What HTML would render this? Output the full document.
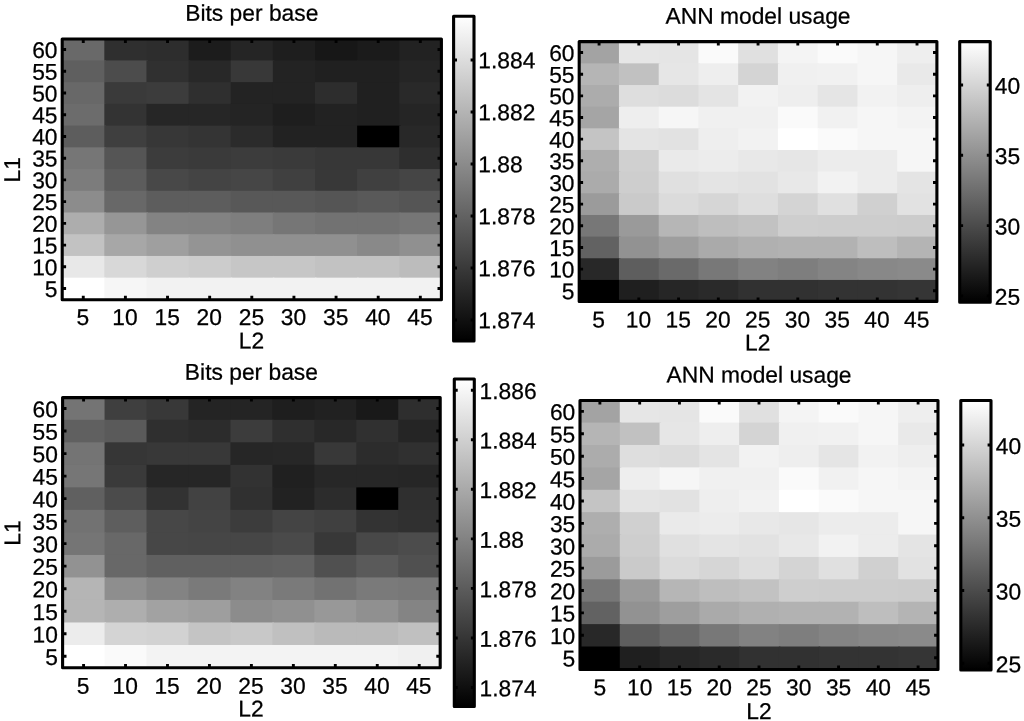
<!DOCTYPE html>
<html lang="en">
<head>
<meta charset="utf-8">
<title>Bits per base / ANN model usage</title>
<style>
html,body{margin:0;padding:0;background:#fff;}
body{width:1024px;height:721px;overflow:hidden;}
svg{display:block;}
svg text{font-family:"Liberation Sans",sans-serif;font-size:22.8px;fill:#000;stroke:#000;stroke-width:0.25px;}
</style>
</head>
<body>
<svg width="1024" height="721" viewBox="0 0 1024 721">
<defs>
<linearGradient id="gr" x1="0" y1="0" x2="0" y2="1">
<stop offset="0" stop-color="#fff"/>
<stop offset="1" stop-color="#000"/>
</linearGradient>
</defs>
<rect width="1024" height="721" fill="#fff"/>
<g>
<rect x="62.2" y="38.7" width="43.63" height="23.22" fill="#696969"/>
<rect x="104.33" y="38.7" width="43.63" height="23.22" fill="#2f2f2f"/>
<rect x="146.47" y="38.7" width="43.63" height="23.22" fill="#2d2d2d"/>
<rect x="188.6" y="38.7" width="43.63" height="23.22" fill="#1c1c1c"/>
<rect x="230.73" y="38.7" width="43.63" height="23.22" fill="#252525"/>
<rect x="272.87" y="38.7" width="43.63" height="23.22" fill="#1e1e1e"/>
<rect x="315" y="38.7" width="43.63" height="23.22" fill="#171717"/>
<rect x="357.13" y="38.7" width="43.63" height="23.22" fill="#1b1b1b"/>
<rect x="399.27" y="38.7" width="42.13" height="23.22" fill="#222222"/>
<rect x="62.2" y="60.42" width="43.63" height="23.22" fill="#5f5f5f"/>
<rect x="104.33" y="60.42" width="43.63" height="23.22" fill="#4c4c4c"/>
<rect x="146.47" y="60.42" width="43.63" height="23.22" fill="#303030"/>
<rect x="188.6" y="60.42" width="43.63" height="23.22" fill="#282828"/>
<rect x="230.73" y="60.42" width="43.63" height="23.22" fill="#383838"/>
<rect x="272.87" y="60.42" width="43.63" height="23.22" fill="#232323"/>
<rect x="315" y="60.42" width="43.63" height="23.22" fill="#202020"/>
<rect x="357.13" y="60.42" width="43.63" height="23.22" fill="#202020"/>
<rect x="399.27" y="60.42" width="42.13" height="23.22" fill="#252525"/>
<rect x="62.2" y="82.15" width="43.63" height="23.22" fill="#686868"/>
<rect x="104.33" y="82.15" width="43.63" height="23.22" fill="#3a3a3a"/>
<rect x="146.47" y="82.15" width="43.63" height="23.22" fill="#3c3c3c"/>
<rect x="188.6" y="82.15" width="43.63" height="23.22" fill="#2f2f2f"/>
<rect x="230.73" y="82.15" width="43.63" height="23.22" fill="#232323"/>
<rect x="272.87" y="82.15" width="43.63" height="23.22" fill="#232323"/>
<rect x="315" y="82.15" width="43.63" height="23.22" fill="#2d2d2d"/>
<rect x="357.13" y="82.15" width="43.63" height="23.22" fill="#202020"/>
<rect x="399.27" y="82.15" width="42.13" height="23.22" fill="#292929"/>
<rect x="62.2" y="103.88" width="43.63" height="23.22" fill="#6c6c6c"/>
<rect x="104.33" y="103.88" width="43.63" height="23.22" fill="#333333"/>
<rect x="146.47" y="103.88" width="43.63" height="23.22" fill="#262626"/>
<rect x="188.6" y="103.88" width="43.63" height="23.22" fill="#262626"/>
<rect x="230.73" y="103.88" width="43.63" height="23.22" fill="#242424"/>
<rect x="272.87" y="103.88" width="43.63" height="23.22" fill="#1e1e1e"/>
<rect x="315" y="103.88" width="43.63" height="23.22" fill="#222222"/>
<rect x="357.13" y="103.88" width="43.63" height="23.22" fill="#202020"/>
<rect x="399.27" y="103.88" width="42.13" height="23.22" fill="#252525"/>
<rect x="62.2" y="125.6" width="43.63" height="23.22" fill="#5d5d5d"/>
<rect x="104.33" y="125.6" width="43.63" height="23.22" fill="#3f3f3f"/>
<rect x="146.47" y="125.6" width="43.63" height="23.22" fill="#373737"/>
<rect x="188.6" y="125.6" width="43.63" height="23.22" fill="#343434"/>
<rect x="230.73" y="125.6" width="43.63" height="23.22" fill="#2b2b2b"/>
<rect x="272.87" y="125.6" width="43.63" height="23.22" fill="#222222"/>
<rect x="315" y="125.6" width="43.63" height="23.22" fill="#222222"/>
<rect x="357.13" y="125.6" width="43.63" height="23.22" fill="#000000"/>
<rect x="399.27" y="125.6" width="42.13" height="23.22" fill="#282828"/>
<rect x="62.2" y="147.32" width="43.63" height="23.22" fill="#767676"/>
<rect x="104.33" y="147.32" width="43.63" height="23.22" fill="#555555"/>
<rect x="146.47" y="147.32" width="43.63" height="23.22" fill="#3c3c3c"/>
<rect x="188.6" y="147.32" width="43.63" height="23.22" fill="#3a3a3a"/>
<rect x="230.73" y="147.32" width="43.63" height="23.22" fill="#3c3c3c"/>
<rect x="272.87" y="147.32" width="43.63" height="23.22" fill="#3a3a3a"/>
<rect x="315" y="147.32" width="43.63" height="23.22" fill="#373737"/>
<rect x="357.13" y="147.32" width="43.63" height="23.22" fill="#373737"/>
<rect x="399.27" y="147.32" width="42.13" height="23.22" fill="#2e2e2e"/>
<rect x="62.2" y="169.05" width="43.63" height="23.22" fill="#7c7c7c"/>
<rect x="104.33" y="169.05" width="43.63" height="23.22" fill="#5c5c5c"/>
<rect x="146.47" y="169.05" width="43.63" height="23.22" fill="#484848"/>
<rect x="188.6" y="169.05" width="43.63" height="23.22" fill="#444444"/>
<rect x="230.73" y="169.05" width="43.63" height="23.22" fill="#464646"/>
<rect x="272.87" y="169.05" width="43.63" height="23.22" fill="#404040"/>
<rect x="315" y="169.05" width="43.63" height="23.22" fill="#383838"/>
<rect x="357.13" y="169.05" width="43.63" height="23.22" fill="#404040"/>
<rect x="399.27" y="169.05" width="42.13" height="23.22" fill="#454545"/>
<rect x="62.2" y="190.77" width="43.63" height="23.22" fill="#8c8c8c"/>
<rect x="104.33" y="190.77" width="43.63" height="23.22" fill="#686868"/>
<rect x="146.47" y="190.77" width="43.63" height="23.22" fill="#5d5d5d"/>
<rect x="188.6" y="190.77" width="43.63" height="23.22" fill="#5d5d5d"/>
<rect x="230.73" y="190.77" width="43.63" height="23.22" fill="#585858"/>
<rect x="272.87" y="190.77" width="43.63" height="23.22" fill="#585858"/>
<rect x="315" y="190.77" width="43.63" height="23.22" fill="#555555"/>
<rect x="357.13" y="190.77" width="43.63" height="23.22" fill="#595959"/>
<rect x="399.27" y="190.77" width="42.13" height="23.22" fill="#555555"/>
<rect x="62.2" y="212.5" width="43.63" height="23.22" fill="#adadad"/>
<rect x="104.33" y="212.5" width="43.63" height="23.22" fill="#969696"/>
<rect x="146.47" y="212.5" width="43.63" height="23.22" fill="#838383"/>
<rect x="188.6" y="212.5" width="43.63" height="23.22" fill="#828282"/>
<rect x="230.73" y="212.5" width="43.63" height="23.22" fill="#7e7e7e"/>
<rect x="272.87" y="212.5" width="43.63" height="23.22" fill="#767676"/>
<rect x="315" y="212.5" width="43.63" height="23.22" fill="#727272"/>
<rect x="357.13" y="212.5" width="43.63" height="23.22" fill="#727272"/>
<rect x="399.27" y="212.5" width="42.13" height="23.22" fill="#767676"/>
<rect x="62.2" y="234.22" width="43.63" height="23.22" fill="#c2c2c2"/>
<rect x="104.33" y="234.22" width="43.63" height="23.22" fill="#a7a7a7"/>
<rect x="146.47" y="234.22" width="43.63" height="23.22" fill="#9f9f9f"/>
<rect x="188.6" y="234.22" width="43.63" height="23.22" fill="#949494"/>
<rect x="230.73" y="234.22" width="43.63" height="23.22" fill="#909090"/>
<rect x="272.87" y="234.22" width="43.63" height="23.22" fill="#909090"/>
<rect x="315" y="234.22" width="43.63" height="23.22" fill="#909090"/>
<rect x="357.13" y="234.22" width="43.63" height="23.22" fill="#898989"/>
<rect x="399.27" y="234.22" width="42.13" height="23.22" fill="#909090"/>
<rect x="62.2" y="255.95" width="43.63" height="23.22" fill="#e8e8e8"/>
<rect x="104.33" y="255.95" width="43.63" height="23.22" fill="#d8d8d8"/>
<rect x="146.47" y="255.95" width="43.63" height="23.22" fill="#cfcfcf"/>
<rect x="188.6" y="255.95" width="43.63" height="23.22" fill="#cccccc"/>
<rect x="230.73" y="255.95" width="43.63" height="23.22" fill="#c6c6c6"/>
<rect x="272.87" y="255.95" width="43.63" height="23.22" fill="#c6c6c6"/>
<rect x="315" y="255.95" width="43.63" height="23.22" fill="#c2c2c2"/>
<rect x="357.13" y="255.95" width="43.63" height="23.22" fill="#c2c2c2"/>
<rect x="399.27" y="255.95" width="42.13" height="23.22" fill="#bcbcbc"/>
<rect x="62.2" y="277.67" width="43.63" height="21.72" fill="#ffffff"/>
<rect x="104.33" y="277.67" width="43.63" height="21.72" fill="#f6f6f6"/>
<rect x="146.47" y="277.67" width="43.63" height="21.72" fill="#f2f2f2"/>
<rect x="188.6" y="277.67" width="43.63" height="21.72" fill="#f2f2f2"/>
<rect x="230.73" y="277.67" width="43.63" height="21.72" fill="#f2f2f2"/>
<rect x="272.87" y="277.67" width="43.63" height="21.72" fill="#f2f2f2"/>
<rect x="315" y="277.67" width="43.63" height="21.72" fill="#f2f2f2"/>
<rect x="357.13" y="277.67" width="43.63" height="21.72" fill="#f2f2f2"/>
<rect x="399.27" y="277.67" width="42.13" height="21.72" fill="#f2f2f2"/>
<path d="M83.27 299.7v-3.9M83.27 39v3.9M125.4 299.7v-3.9M125.4 39v3.9M167.53 299.7v-3.9M167.53 39v3.9M209.67 299.7v-3.9M209.67 39v3.9M251.8 299.7v-3.9M251.8 39v3.9M293.93 299.7v-3.9M293.93 39v3.9M336.07 299.7v-3.9M336.07 39v3.9M378.2 299.7v-3.9M378.2 39v3.9M420.33 299.7v-3.9M420.33 39v3.9M62.2 49.56h3.9M441.4 49.56h-3.9M62.2 71.29h3.9M441.4 71.29h-3.9M62.2 93.01h3.9M441.4 93.01h-3.9M62.2 114.74h3.9M441.4 114.74h-3.9M62.2 136.46h3.9M441.4 136.46h-3.9M62.2 158.19h3.9M441.4 158.19h-3.9M62.2 179.91h3.9M441.4 179.91h-3.9M62.2 201.64h3.9M441.4 201.64h-3.9M62.2 223.36h3.9M441.4 223.36h-3.9M62.2 245.09h3.9M441.4 245.09h-3.9M62.2 266.81h3.9M441.4 266.81h-3.9M62.2 288.54h3.9M441.4 288.54h-3.9" stroke="#000" stroke-width="2.9" fill="none"/>
<rect x="62.2" y="39" width="379.2" height="260.7" fill="none" stroke="#000" stroke-width="3.1" stroke-linejoin="round"/>
<text transform="translate(82.87 325) rotate(0.04)" text-anchor="middle">5</text>
<text transform="translate(125 325) rotate(0.04)" text-anchor="middle">10</text>
<text transform="translate(167.13 325) rotate(0.04)" text-anchor="middle">15</text>
<text transform="translate(209.27 325) rotate(0.04)" text-anchor="middle">20</text>
<text transform="translate(251.4 325) rotate(0.04)" text-anchor="middle">25</text>
<text transform="translate(293.53 325) rotate(0.04)" text-anchor="middle">30</text>
<text transform="translate(335.67 325) rotate(0.04)" text-anchor="middle">35</text>
<text transform="translate(377.8 325) rotate(0.04)" text-anchor="middle">40</text>
<text transform="translate(419.93 325) rotate(0.04)" text-anchor="middle">45</text>
<text transform="translate(57.5 57.96) rotate(0.04)" text-anchor="end">60</text>
<text transform="translate(57.5 79.69) rotate(0.04)" text-anchor="end">55</text>
<text transform="translate(57.5 101.41) rotate(0.04)" text-anchor="end">50</text>
<text transform="translate(57.5 123.14) rotate(0.04)" text-anchor="end">45</text>
<text transform="translate(57.5 144.86) rotate(0.04)" text-anchor="end">40</text>
<text transform="translate(57.5 166.59) rotate(0.04)" text-anchor="end">35</text>
<text transform="translate(57.5 188.31) rotate(0.04)" text-anchor="end">30</text>
<text transform="translate(57.5 210.04) rotate(0.04)" text-anchor="end">25</text>
<text transform="translate(57.5 231.76) rotate(0.04)" text-anchor="end">20</text>
<text transform="translate(57.5 253.49) rotate(0.04)" text-anchor="end">15</text>
<text transform="translate(57.5 275.21) rotate(0.04)" text-anchor="end">10</text>
<text transform="translate(57.5 296.94) rotate(0.04)" text-anchor="end">5</text>
<text transform="translate(251.4 348.4) rotate(0.04)" text-anchor="middle">L2</text>
<text transform="translate(251.8 20.8) rotate(0.04)" text-anchor="middle">Bits per base</text>
<text transform="translate(19.9 169.75) rotate(-90.04)" text-anchor="middle">L1</text>
<rect x="453.6" y="16.3" width="20.4" height="324.7" fill="url(#gr)"/>
<text transform="translate(478.3 68.3) rotate(0.04)">1.884</text>
<text transform="translate(478.3 120.3) rotate(0.04)">1.882</text>
<text transform="translate(478.3 172.3) rotate(0.04)">1.88</text>
<text transform="translate(478.3 224.3) rotate(0.04)">1.878</text>
<text transform="translate(478.3 276.3) rotate(0.04)">1.876</text>
<text transform="translate(478.3 328.3) rotate(0.04)">1.874</text>
<path d="M453.6 60h3.4M474 60h-3.4M453.6 112h3.4M474 112h-3.4M453.6 164h3.4M474 164h-3.4M453.6 216h3.4M474 216h-3.4M453.6 268h3.4M474 268h-3.4M453.6 320h3.4M474 320h-3.4" stroke="#000" stroke-width="2.9" fill="none"/>
<rect x="453.6" y="16.3" width="20.4" height="324.7" fill="none" stroke="#000" stroke-width="3.1" stroke-linejoin="round"/>
</g>
<g>
<rect x="579.2" y="41.7" width="41.24" height="23.16" fill="#a3a3a3"/>
<rect x="618.94" y="41.7" width="41.24" height="23.16" fill="#e6e6e6"/>
<rect x="658.69" y="41.7" width="41.24" height="23.16" fill="#e5e5e5"/>
<rect x="698.43" y="41.7" width="41.24" height="23.16" fill="#fafafa"/>
<rect x="738.18" y="41.7" width="41.24" height="23.16" fill="#e0e0e0"/>
<rect x="777.92" y="41.7" width="41.24" height="23.16" fill="#f4f4f4"/>
<rect x="817.67" y="41.7" width="41.24" height="23.16" fill="#fafafa"/>
<rect x="857.41" y="41.7" width="41.24" height="23.16" fill="#f6f6f6"/>
<rect x="897.16" y="41.7" width="39.74" height="23.16" fill="#eeeeee"/>
<rect x="579.2" y="63.36" width="41.24" height="23.16" fill="#b5b5b5"/>
<rect x="618.94" y="63.36" width="41.24" height="23.16" fill="#c1c1c1"/>
<rect x="658.69" y="63.36" width="41.24" height="23.16" fill="#e6e6e6"/>
<rect x="698.43" y="63.36" width="41.24" height="23.16" fill="#eeeeee"/>
<rect x="738.18" y="63.36" width="41.24" height="23.16" fill="#d4d4d4"/>
<rect x="777.92" y="63.36" width="41.24" height="23.16" fill="#f0f0f0"/>
<rect x="817.67" y="63.36" width="41.24" height="23.16" fill="#f1f1f1"/>
<rect x="857.41" y="63.36" width="41.24" height="23.16" fill="#f6f6f6"/>
<rect x="897.16" y="63.36" width="39.74" height="23.16" fill="#e9e9e9"/>
<rect x="579.2" y="85.02" width="41.24" height="23.16" fill="#acacac"/>
<rect x="618.94" y="85.02" width="41.24" height="23.16" fill="#dedede"/>
<rect x="658.69" y="85.02" width="41.24" height="23.16" fill="#dcdcdc"/>
<rect x="698.43" y="85.02" width="41.24" height="23.16" fill="#e4e4e4"/>
<rect x="738.18" y="85.02" width="41.24" height="23.16" fill="#f2f2f2"/>
<rect x="777.92" y="85.02" width="41.24" height="23.16" fill="#eeeeee"/>
<rect x="817.67" y="85.02" width="41.24" height="23.16" fill="#e5e5e5"/>
<rect x="857.41" y="85.02" width="41.24" height="23.16" fill="#f2f2f2"/>
<rect x="897.16" y="85.02" width="39.74" height="23.16" fill="#eeeeee"/>
<rect x="579.2" y="106.68" width="41.24" height="23.16" fill="#a5a5a5"/>
<rect x="618.94" y="106.68" width="41.24" height="23.16" fill="#eeeeee"/>
<rect x="658.69" y="106.68" width="41.24" height="23.16" fill="#f6f6f6"/>
<rect x="698.43" y="106.68" width="41.24" height="23.16" fill="#f0f0f0"/>
<rect x="738.18" y="106.68" width="41.24" height="23.16" fill="#f0f0f0"/>
<rect x="777.92" y="106.68" width="41.24" height="23.16" fill="#fafafa"/>
<rect x="817.67" y="106.68" width="41.24" height="23.16" fill="#f1f1f1"/>
<rect x="857.41" y="106.68" width="41.24" height="23.16" fill="#f6f6f6"/>
<rect x="897.16" y="106.68" width="39.74" height="23.16" fill="#f3f3f3"/>
<rect x="579.2" y="128.33" width="41.24" height="23.16" fill="#c4c4c4"/>
<rect x="618.94" y="128.33" width="41.24" height="23.16" fill="#e4e4e4"/>
<rect x="658.69" y="128.33" width="41.24" height="23.16" fill="#e2e2e2"/>
<rect x="698.43" y="128.33" width="41.24" height="23.16" fill="#eeeeee"/>
<rect x="738.18" y="128.33" width="41.24" height="23.16" fill="#f2f2f2"/>
<rect x="777.92" y="128.33" width="41.24" height="23.16" fill="#ffffff"/>
<rect x="817.67" y="128.33" width="41.24" height="23.16" fill="#fafafa"/>
<rect x="857.41" y="128.33" width="41.24" height="23.16" fill="#f6f6f6"/>
<rect x="897.16" y="128.33" width="39.74" height="23.16" fill="#f6f6f6"/>
<rect x="579.2" y="149.99" width="41.24" height="23.16" fill="#aeaeae"/>
<rect x="618.94" y="149.99" width="41.24" height="23.16" fill="#d0d0d0"/>
<rect x="658.69" y="149.99" width="41.24" height="23.16" fill="#eaeaea"/>
<rect x="698.43" y="149.99" width="41.24" height="23.16" fill="#ececec"/>
<rect x="738.18" y="149.99" width="41.24" height="23.16" fill="#e8e8e8"/>
<rect x="777.92" y="149.99" width="41.24" height="23.16" fill="#e6e6e6"/>
<rect x="817.67" y="149.99" width="41.24" height="23.16" fill="#ececec"/>
<rect x="857.41" y="149.99" width="41.24" height="23.16" fill="#ececec"/>
<rect x="897.16" y="149.99" width="39.74" height="23.16" fill="#f6f6f6"/>
<rect x="579.2" y="171.65" width="41.24" height="23.16" fill="#ababab"/>
<rect x="618.94" y="171.65" width="41.24" height="23.16" fill="#cecece"/>
<rect x="658.69" y="171.65" width="41.24" height="23.16" fill="#e0e0e0"/>
<rect x="698.43" y="171.65" width="41.24" height="23.16" fill="#e4e4e4"/>
<rect x="738.18" y="171.65" width="41.24" height="23.16" fill="#e2e2e2"/>
<rect x="777.92" y="171.65" width="41.24" height="23.16" fill="#e8e8e8"/>
<rect x="817.67" y="171.65" width="41.24" height="23.16" fill="#f2f2f2"/>
<rect x="857.41" y="171.65" width="41.24" height="23.16" fill="#ececec"/>
<rect x="897.16" y="171.65" width="39.74" height="23.16" fill="#e4e4e4"/>
<rect x="579.2" y="193.31" width="41.24" height="23.16" fill="#9b9b9b"/>
<rect x="618.94" y="193.31" width="41.24" height="23.16" fill="#cacaca"/>
<rect x="658.69" y="193.31" width="41.24" height="23.16" fill="#dbdbdb"/>
<rect x="698.43" y="193.31" width="41.24" height="23.16" fill="#d6d6d6"/>
<rect x="738.18" y="193.31" width="41.24" height="23.16" fill="#dedede"/>
<rect x="777.92" y="193.31" width="41.24" height="23.16" fill="#d4d4d4"/>
<rect x="817.67" y="193.31" width="41.24" height="23.16" fill="#e0e0e0"/>
<rect x="857.41" y="193.31" width="41.24" height="23.16" fill="#d0d0d0"/>
<rect x="897.16" y="193.31" width="39.74" height="23.16" fill="#e2e2e2"/>
<rect x="579.2" y="214.97" width="41.24" height="23.16" fill="#777777"/>
<rect x="618.94" y="214.97" width="41.24" height="23.16" fill="#9a9a9a"/>
<rect x="658.69" y="214.97" width="41.24" height="23.16" fill="#b6b6b6"/>
<rect x="698.43" y="214.97" width="41.24" height="23.16" fill="#bebebe"/>
<rect x="738.18" y="214.97" width="41.24" height="23.16" fill="#c2c2c2"/>
<rect x="777.92" y="214.97" width="41.24" height="23.16" fill="#cecece"/>
<rect x="817.67" y="214.97" width="41.24" height="23.16" fill="#cdcdcd"/>
<rect x="857.41" y="214.97" width="41.24" height="23.16" fill="#cdcdcd"/>
<rect x="897.16" y="214.97" width="39.74" height="23.16" fill="#cccccc"/>
<rect x="579.2" y="236.62" width="41.24" height="23.16" fill="#626262"/>
<rect x="618.94" y="236.62" width="41.24" height="23.16" fill="#929292"/>
<rect x="658.69" y="236.62" width="41.24" height="23.16" fill="#9e9e9e"/>
<rect x="698.43" y="236.62" width="41.24" height="23.16" fill="#aaaaaa"/>
<rect x="738.18" y="236.62" width="41.24" height="23.16" fill="#b0b0b0"/>
<rect x="777.92" y="236.62" width="41.24" height="23.16" fill="#b2b2b2"/>
<rect x="817.67" y="236.62" width="41.24" height="23.16" fill="#b2b2b2"/>
<rect x="857.41" y="236.62" width="41.24" height="23.16" fill="#bebebe"/>
<rect x="897.16" y="236.62" width="39.74" height="23.16" fill="#b4b4b4"/>
<rect x="579.2" y="258.28" width="41.24" height="23.16" fill="#282828"/>
<rect x="618.94" y="258.28" width="41.24" height="23.16" fill="#5e5e5e"/>
<rect x="658.69" y="258.28" width="41.24" height="23.16" fill="#6a6a6a"/>
<rect x="698.43" y="258.28" width="41.24" height="23.16" fill="#787878"/>
<rect x="738.18" y="258.28" width="41.24" height="23.16" fill="#828282"/>
<rect x="777.92" y="258.28" width="41.24" height="23.16" fill="#7e7e7e"/>
<rect x="817.67" y="258.28" width="41.24" height="23.16" fill="#848484"/>
<rect x="857.41" y="258.28" width="41.24" height="23.16" fill="#888888"/>
<rect x="897.16" y="258.28" width="39.74" height="23.16" fill="#8a8a8a"/>
<rect x="579.2" y="279.94" width="41.24" height="21.66" fill="#000000"/>
<rect x="618.94" y="279.94" width="41.24" height="21.66" fill="#1f1f1f"/>
<rect x="658.69" y="279.94" width="41.24" height="21.66" fill="#262626"/>
<rect x="698.43" y="279.94" width="41.24" height="21.66" fill="#2a2a2a"/>
<rect x="738.18" y="279.94" width="41.24" height="21.66" fill="#313131"/>
<rect x="777.92" y="279.94" width="41.24" height="21.66" fill="#313131"/>
<rect x="817.67" y="279.94" width="41.24" height="21.66" fill="#333333"/>
<rect x="857.41" y="279.94" width="41.24" height="21.66" fill="#333333"/>
<rect x="897.16" y="279.94" width="39.74" height="21.66" fill="#353535"/>
<path d="M599.07 301.4v-3.9M599.07 41.6v3.9M638.82 301.4v-3.9M638.82 41.6v3.9M678.56 301.4v-3.9M678.56 41.6v3.9M718.31 301.4v-3.9M718.31 41.6v3.9M758.05 301.4v-3.9M758.05 41.6v3.9M797.79 301.4v-3.9M797.79 41.6v3.9M837.54 301.4v-3.9M837.54 41.6v3.9M877.28 301.4v-3.9M877.28 41.6v3.9M917.03 301.4v-3.9M917.03 41.6v3.9M579.2 52.53h3.9M936.9 52.53h-3.9M579.2 74.19h3.9M936.9 74.19h-3.9M579.2 95.85h3.9M936.9 95.85h-3.9M579.2 117.5h3.9M936.9 117.5h-3.9M579.2 139.16h3.9M936.9 139.16h-3.9M579.2 160.82h3.9M936.9 160.82h-3.9M579.2 182.48h3.9M936.9 182.48h-3.9M579.2 204.14h3.9M936.9 204.14h-3.9M579.2 225.8h3.9M936.9 225.8h-3.9M579.2 247.45h3.9M936.9 247.45h-3.9M579.2 269.11h3.9M936.9 269.11h-3.9M579.2 290.77h3.9M936.9 290.77h-3.9" stroke="#000" stroke-width="2.9" fill="none"/>
<rect x="579.2" y="41.6" width="357.7" height="259.8" fill="none" stroke="#000" stroke-width="3.1" stroke-linejoin="round"/>
<text transform="translate(598.67 327.5) rotate(0.04)" text-anchor="middle">5</text>
<text transform="translate(638.42 327.5) rotate(0.04)" text-anchor="middle">10</text>
<text transform="translate(678.16 327.5) rotate(0.04)" text-anchor="middle">15</text>
<text transform="translate(717.91 327.5) rotate(0.04)" text-anchor="middle">20</text>
<text transform="translate(757.65 327.5) rotate(0.04)" text-anchor="middle">25</text>
<text transform="translate(797.39 327.5) rotate(0.04)" text-anchor="middle">30</text>
<text transform="translate(837.14 327.5) rotate(0.04)" text-anchor="middle">35</text>
<text transform="translate(876.88 327.5) rotate(0.04)" text-anchor="middle">40</text>
<text transform="translate(916.63 327.5) rotate(0.04)" text-anchor="middle">45</text>
<text transform="translate(574.5 61.03) rotate(0.04)" text-anchor="end">60</text>
<text transform="translate(574.5 82.69) rotate(0.04)" text-anchor="end">55</text>
<text transform="translate(574.5 104.35) rotate(0.04)" text-anchor="end">50</text>
<text transform="translate(574.5 126) rotate(0.04)" text-anchor="end">45</text>
<text transform="translate(574.5 147.66) rotate(0.04)" text-anchor="end">40</text>
<text transform="translate(574.5 169.32) rotate(0.04)" text-anchor="end">35</text>
<text transform="translate(574.5 190.98) rotate(0.04)" text-anchor="end">30</text>
<text transform="translate(574.5 212.64) rotate(0.04)" text-anchor="end">25</text>
<text transform="translate(574.5 234.3) rotate(0.04)" text-anchor="end">20</text>
<text transform="translate(574.5 255.95) rotate(0.04)" text-anchor="end">15</text>
<text transform="translate(574.5 277.61) rotate(0.04)" text-anchor="end">10</text>
<text transform="translate(574.5 299.27) rotate(0.04)" text-anchor="end">5</text>
<text transform="translate(757.65 350.6) rotate(0.04)" text-anchor="middle">L2</text>
<text transform="translate(758.05 23.8) rotate(0.04)" text-anchor="middle">ANN model usage</text>
<rect x="959.7" y="41.6" width="30.5" height="260.7" fill="url(#gr)"/>
<text transform="translate(994.7 93.8) rotate(0.04)">40</text>
<text transform="translate(994.7 164.1) rotate(0.04)">35</text>
<text transform="translate(994.7 234.4) rotate(0.04)">30</text>
<text transform="translate(994.7 304.7) rotate(0.04)">25</text>
<path d="M959.7 85h3.4M990.2 85h-3.4M959.7 155.3h3.4M990.2 155.3h-3.4M959.7 225.6h3.4M990.2 225.6h-3.4M959.7 295.9h3.4M990.2 295.9h-3.4" stroke="#000" stroke-width="2.9" fill="none"/>
<rect x="959.7" y="41.6" width="30.5" height="260.7" fill="none" stroke="#000" stroke-width="3.1" stroke-linejoin="round"/>
</g>
<g>
<rect x="62.6" y="397.3" width="43.46" height="24.02" fill="#747474"/>
<rect x="104.56" y="397.3" width="43.46" height="24.02" fill="#3f3f3f"/>
<rect x="146.51" y="397.3" width="43.46" height="24.02" fill="#383838"/>
<rect x="188.47" y="397.3" width="43.46" height="24.02" fill="#242424"/>
<rect x="230.42" y="397.3" width="43.46" height="24.02" fill="#242424"/>
<rect x="272.38" y="397.3" width="43.46" height="24.02" fill="#1e1e1e"/>
<rect x="314.33" y="397.3" width="43.46" height="24.02" fill="#212121"/>
<rect x="356.29" y="397.3" width="43.46" height="24.02" fill="#191919"/>
<rect x="398.24" y="397.3" width="41.96" height="24.02" fill="#2e2e2e"/>
<rect x="62.6" y="419.82" width="43.46" height="24.02" fill="#606060"/>
<rect x="104.56" y="419.82" width="43.46" height="24.02" fill="#5a5a5a"/>
<rect x="146.51" y="419.82" width="43.46" height="24.02" fill="#2f2f2f"/>
<rect x="188.47" y="419.82" width="43.46" height="24.02" fill="#2c2c2c"/>
<rect x="230.42" y="419.82" width="43.46" height="24.02" fill="#3c3c3c"/>
<rect x="272.38" y="419.82" width="43.46" height="24.02" fill="#2f2f2f"/>
<rect x="314.33" y="419.82" width="43.46" height="24.02" fill="#282828"/>
<rect x="356.29" y="419.82" width="43.46" height="24.02" fill="#303030"/>
<rect x="398.24" y="419.82" width="41.96" height="24.02" fill="#252525"/>
<rect x="62.6" y="442.33" width="43.46" height="24.02" fill="#747474"/>
<rect x="104.56" y="442.33" width="43.46" height="24.02" fill="#363636"/>
<rect x="146.51" y="442.33" width="43.46" height="24.02" fill="#383838"/>
<rect x="188.47" y="442.33" width="43.46" height="24.02" fill="#383838"/>
<rect x="230.42" y="442.33" width="43.46" height="24.02" fill="#262626"/>
<rect x="272.38" y="442.33" width="43.46" height="24.02" fill="#272727"/>
<rect x="314.33" y="442.33" width="43.46" height="24.02" fill="#383838"/>
<rect x="356.29" y="442.33" width="43.46" height="24.02" fill="#2c2c2c"/>
<rect x="398.24" y="442.33" width="41.96" height="24.02" fill="#303030"/>
<rect x="62.6" y="464.85" width="43.46" height="24.02" fill="#767676"/>
<rect x="104.56" y="464.85" width="43.46" height="24.02" fill="#3a3a3a"/>
<rect x="146.51" y="464.85" width="43.46" height="24.02" fill="#262626"/>
<rect x="188.47" y="464.85" width="43.46" height="24.02" fill="#262626"/>
<rect x="230.42" y="464.85" width="43.46" height="24.02" fill="#323232"/>
<rect x="272.38" y="464.85" width="43.46" height="24.02" fill="#202020"/>
<rect x="314.33" y="464.85" width="43.46" height="24.02" fill="#272727"/>
<rect x="356.29" y="464.85" width="43.46" height="24.02" fill="#272727"/>
<rect x="398.24" y="464.85" width="41.96" height="24.02" fill="#262626"/>
<rect x="62.6" y="487.37" width="43.46" height="24.02" fill="#606060"/>
<rect x="104.56" y="487.37" width="43.46" height="24.02" fill="#4b4b4b"/>
<rect x="146.51" y="487.37" width="43.46" height="24.02" fill="#323232"/>
<rect x="188.47" y="487.37" width="43.46" height="24.02" fill="#424242"/>
<rect x="230.42" y="487.37" width="43.46" height="24.02" fill="#303030"/>
<rect x="272.38" y="487.37" width="43.46" height="24.02" fill="#222222"/>
<rect x="314.33" y="487.37" width="43.46" height="24.02" fill="#2c2c2c"/>
<rect x="356.29" y="487.37" width="43.46" height="24.02" fill="#000000"/>
<rect x="398.24" y="487.37" width="41.96" height="24.02" fill="#2f2f2f"/>
<rect x="62.6" y="509.88" width="43.46" height="24.02" fill="#727272"/>
<rect x="104.56" y="509.88" width="43.46" height="24.02" fill="#5e5e5e"/>
<rect x="146.51" y="509.88" width="43.46" height="24.02" fill="#474747"/>
<rect x="188.47" y="509.88" width="43.46" height="24.02" fill="#444444"/>
<rect x="230.42" y="509.88" width="43.46" height="24.02" fill="#3c3c3c"/>
<rect x="272.38" y="509.88" width="43.46" height="24.02" fill="#444444"/>
<rect x="314.33" y="509.88" width="43.46" height="24.02" fill="#404040"/>
<rect x="356.29" y="509.88" width="43.46" height="24.02" fill="#333333"/>
<rect x="398.24" y="509.88" width="41.96" height="24.02" fill="#303030"/>
<rect x="62.6" y="532.4" width="43.46" height="24.02" fill="#757575"/>
<rect x="104.56" y="532.4" width="43.46" height="24.02" fill="#686868"/>
<rect x="146.51" y="532.4" width="43.46" height="24.02" fill="#474747"/>
<rect x="188.47" y="532.4" width="43.46" height="24.02" fill="#464646"/>
<rect x="230.42" y="532.4" width="43.46" height="24.02" fill="#464646"/>
<rect x="272.38" y="532.4" width="43.46" height="24.02" fill="#4a4a4a"/>
<rect x="314.33" y="532.4" width="43.46" height="24.02" fill="#383838"/>
<rect x="356.29" y="532.4" width="43.46" height="24.02" fill="#484848"/>
<rect x="398.24" y="532.4" width="41.96" height="24.02" fill="#4c4c4c"/>
<rect x="62.6" y="554.92" width="43.46" height="24.02" fill="#929292"/>
<rect x="104.56" y="554.92" width="43.46" height="24.02" fill="#686868"/>
<rect x="146.51" y="554.92" width="43.46" height="24.02" fill="#606060"/>
<rect x="188.47" y="554.92" width="43.46" height="24.02" fill="#606060"/>
<rect x="230.42" y="554.92" width="43.46" height="24.02" fill="#606060"/>
<rect x="272.38" y="554.92" width="43.46" height="24.02" fill="#626262"/>
<rect x="314.33" y="554.92" width="43.46" height="24.02" fill="#505050"/>
<rect x="356.29" y="554.92" width="43.46" height="24.02" fill="#5a5a5a"/>
<rect x="398.24" y="554.92" width="41.96" height="24.02" fill="#505050"/>
<rect x="62.6" y="577.43" width="43.46" height="24.02" fill="#b5b5b5"/>
<rect x="104.56" y="577.43" width="43.46" height="24.02" fill="#8e8e8e"/>
<rect x="146.51" y="577.43" width="43.46" height="24.02" fill="#838383"/>
<rect x="188.47" y="577.43" width="43.46" height="24.02" fill="#7a7a7a"/>
<rect x="230.42" y="577.43" width="43.46" height="24.02" fill="#828282"/>
<rect x="272.38" y="577.43" width="43.46" height="24.02" fill="#7a7a7a"/>
<rect x="314.33" y="577.43" width="43.46" height="24.02" fill="#727272"/>
<rect x="356.29" y="577.43" width="43.46" height="24.02" fill="#7a7a7a"/>
<rect x="398.24" y="577.43" width="41.96" height="24.02" fill="#787878"/>
<rect x="62.6" y="599.95" width="43.46" height="24.02" fill="#b5b5b5"/>
<rect x="104.56" y="599.95" width="43.46" height="24.02" fill="#aeaeae"/>
<rect x="146.51" y="599.95" width="43.46" height="24.02" fill="#a2a2a2"/>
<rect x="188.47" y="599.95" width="43.46" height="24.02" fill="#9e9e9e"/>
<rect x="230.42" y="599.95" width="43.46" height="24.02" fill="#8c8c8c"/>
<rect x="272.38" y="599.95" width="43.46" height="24.02" fill="#909090"/>
<rect x="314.33" y="599.95" width="43.46" height="24.02" fill="#989898"/>
<rect x="356.29" y="599.95" width="43.46" height="24.02" fill="#909090"/>
<rect x="398.24" y="599.95" width="41.96" height="24.02" fill="#848484"/>
<rect x="62.6" y="622.47" width="43.46" height="24.02" fill="#ececec"/>
<rect x="104.56" y="622.47" width="43.46" height="24.02" fill="#d4d4d4"/>
<rect x="146.51" y="622.47" width="43.46" height="24.02" fill="#d2d2d2"/>
<rect x="188.47" y="622.47" width="43.46" height="24.02" fill="#c4c4c4"/>
<rect x="230.42" y="622.47" width="43.46" height="24.02" fill="#c8c8c8"/>
<rect x="272.38" y="622.47" width="43.46" height="24.02" fill="#c0c0c0"/>
<rect x="314.33" y="622.47" width="43.46" height="24.02" fill="#bababa"/>
<rect x="356.29" y="622.47" width="43.46" height="24.02" fill="#bababa"/>
<rect x="398.24" y="622.47" width="41.96" height="24.02" fill="#c0c0c0"/>
<rect x="62.6" y="644.98" width="43.46" height="22.52" fill="#ffffff"/>
<rect x="104.56" y="644.98" width="43.46" height="22.52" fill="#fafafa"/>
<rect x="146.51" y="644.98" width="43.46" height="22.52" fill="#f3f3f3"/>
<rect x="188.47" y="644.98" width="43.46" height="22.52" fill="#f3f3f3"/>
<rect x="230.42" y="644.98" width="43.46" height="22.52" fill="#f3f3f3"/>
<rect x="272.38" y="644.98" width="43.46" height="22.52" fill="#f3f3f3"/>
<rect x="314.33" y="644.98" width="43.46" height="22.52" fill="#f3f3f3"/>
<rect x="356.29" y="644.98" width="43.46" height="22.52" fill="#f3f3f3"/>
<rect x="398.24" y="644.98" width="41.96" height="22.52" fill="#f0f0f0"/>
<path d="M83.58 667.8v-3.9M83.58 397.6v3.9M125.53 667.8v-3.9M125.53 397.6v3.9M167.49 667.8v-3.9M167.49 397.6v3.9M209.44 667.8v-3.9M209.44 397.6v3.9M251.4 667.8v-3.9M251.4 397.6v3.9M293.36 667.8v-3.9M293.36 397.6v3.9M335.31 667.8v-3.9M335.31 397.6v3.9M377.27 667.8v-3.9M377.27 397.6v3.9M419.22 667.8v-3.9M419.22 397.6v3.9M62.6 408.56h3.9M440.2 408.56h-3.9M62.6 431.07h3.9M440.2 431.07h-3.9M62.6 453.59h3.9M440.2 453.59h-3.9M62.6 476.11h3.9M440.2 476.11h-3.9M62.6 498.62h3.9M440.2 498.62h-3.9M62.6 521.14h3.9M440.2 521.14h-3.9M62.6 543.66h3.9M440.2 543.66h-3.9M62.6 566.17h3.9M440.2 566.17h-3.9M62.6 588.69h3.9M440.2 588.69h-3.9M62.6 611.21h3.9M440.2 611.21h-3.9M62.6 633.73h3.9M440.2 633.73h-3.9M62.6 656.24h3.9M440.2 656.24h-3.9" stroke="#000" stroke-width="2.9" fill="none"/>
<rect x="62.6" y="397.6" width="377.6" height="270.2" fill="none" stroke="#000" stroke-width="3.1" stroke-linejoin="round"/>
<text transform="translate(83.18 693.7) rotate(0.04)" text-anchor="middle">5</text>
<text transform="translate(125.13 693.7) rotate(0.04)" text-anchor="middle">10</text>
<text transform="translate(167.09 693.7) rotate(0.04)" text-anchor="middle">15</text>
<text transform="translate(209.04 693.7) rotate(0.04)" text-anchor="middle">20</text>
<text transform="translate(251 693.7) rotate(0.04)" text-anchor="middle">25</text>
<text transform="translate(292.96 693.7) rotate(0.04)" text-anchor="middle">30</text>
<text transform="translate(334.91 693.7) rotate(0.04)" text-anchor="middle">35</text>
<text transform="translate(376.87 693.7) rotate(0.04)" text-anchor="middle">40</text>
<text transform="translate(418.82 693.7) rotate(0.04)" text-anchor="middle">45</text>
<text transform="translate(57.9 417.26) rotate(0.04)" text-anchor="end">60</text>
<text transform="translate(57.9 439.77) rotate(0.04)" text-anchor="end">55</text>
<text transform="translate(57.9 462.29) rotate(0.04)" text-anchor="end">50</text>
<text transform="translate(57.9 484.81) rotate(0.04)" text-anchor="end">45</text>
<text transform="translate(57.9 507.32) rotate(0.04)" text-anchor="end">40</text>
<text transform="translate(57.9 529.84) rotate(0.04)" text-anchor="end">35</text>
<text transform="translate(57.9 552.36) rotate(0.04)" text-anchor="end">30</text>
<text transform="translate(57.9 574.88) rotate(0.04)" text-anchor="end">25</text>
<text transform="translate(57.9 597.39) rotate(0.04)" text-anchor="end">20</text>
<text transform="translate(57.9 619.91) rotate(0.04)" text-anchor="end">15</text>
<text transform="translate(57.9 642.43) rotate(0.04)" text-anchor="end">10</text>
<text transform="translate(57.9 664.94) rotate(0.04)" text-anchor="end">5</text>
<text transform="translate(251 716.5) rotate(0.04)" text-anchor="middle">L2</text>
<text transform="translate(251.4 379.8) rotate(0.04)" text-anchor="middle">Bits per base</text>
<text transform="translate(20.3 533.1) rotate(-90.04)" text-anchor="middle">L1</text>
<rect x="454.3" y="379" width="20" height="327.5" fill="url(#gr)"/>
<text transform="translate(479.6 399) rotate(0.04)">1.886</text>
<text transform="translate(479.6 448.55) rotate(0.04)">1.884</text>
<text transform="translate(479.6 498.1) rotate(0.04)">1.882</text>
<text transform="translate(479.6 547.65) rotate(0.04)">1.88</text>
<text transform="translate(479.6 597.2) rotate(0.04)">1.878</text>
<text transform="translate(479.6 646.75) rotate(0.04)">1.876</text>
<text transform="translate(479.6 696.3) rotate(0.04)">1.874</text>
<path d="M454.3 390.2h3.4M474.3 390.2h-3.4M454.3 439.75h3.4M474.3 439.75h-3.4M454.3 489.3h3.4M474.3 489.3h-3.4M454.3 538.85h3.4M474.3 538.85h-3.4M454.3 588.4h3.4M474.3 588.4h-3.4M454.3 637.95h3.4M474.3 637.95h-3.4M454.3 687.5h3.4M474.3 687.5h-3.4" stroke="#000" stroke-width="2.9" fill="none"/>
<rect x="454.3" y="379" width="20" height="327.5" fill="none" stroke="#000" stroke-width="3.1" stroke-linejoin="round"/>
</g>
<g>
<rect x="580" y="400.2" width="41.28" height="23.89" fill="#a3a3a3"/>
<rect x="619.78" y="400.2" width="41.28" height="23.89" fill="#e6e6e6"/>
<rect x="659.56" y="400.2" width="41.28" height="23.89" fill="#e5e5e5"/>
<rect x="699.33" y="400.2" width="41.28" height="23.89" fill="#fafafa"/>
<rect x="739.11" y="400.2" width="41.28" height="23.89" fill="#e0e0e0"/>
<rect x="778.89" y="400.2" width="41.28" height="23.89" fill="#f4f4f4"/>
<rect x="818.67" y="400.2" width="41.28" height="23.89" fill="#fafafa"/>
<rect x="858.44" y="400.2" width="41.28" height="23.89" fill="#f6f6f6"/>
<rect x="898.22" y="400.2" width="39.78" height="23.89" fill="#eeeeee"/>
<rect x="580" y="422.59" width="41.28" height="23.89" fill="#b5b5b5"/>
<rect x="619.78" y="422.59" width="41.28" height="23.89" fill="#c1c1c1"/>
<rect x="659.56" y="422.59" width="41.28" height="23.89" fill="#e6e6e6"/>
<rect x="699.33" y="422.59" width="41.28" height="23.89" fill="#eeeeee"/>
<rect x="739.11" y="422.59" width="41.28" height="23.89" fill="#d4d4d4"/>
<rect x="778.89" y="422.59" width="41.28" height="23.89" fill="#f0f0f0"/>
<rect x="818.67" y="422.59" width="41.28" height="23.89" fill="#f1f1f1"/>
<rect x="858.44" y="422.59" width="41.28" height="23.89" fill="#f6f6f6"/>
<rect x="898.22" y="422.59" width="39.78" height="23.89" fill="#e9e9e9"/>
<rect x="580" y="444.98" width="41.28" height="23.89" fill="#acacac"/>
<rect x="619.78" y="444.98" width="41.28" height="23.89" fill="#dedede"/>
<rect x="659.56" y="444.98" width="41.28" height="23.89" fill="#dcdcdc"/>
<rect x="699.33" y="444.98" width="41.28" height="23.89" fill="#e4e4e4"/>
<rect x="739.11" y="444.98" width="41.28" height="23.89" fill="#f2f2f2"/>
<rect x="778.89" y="444.98" width="41.28" height="23.89" fill="#eeeeee"/>
<rect x="818.67" y="444.98" width="41.28" height="23.89" fill="#e5e5e5"/>
<rect x="858.44" y="444.98" width="41.28" height="23.89" fill="#f2f2f2"/>
<rect x="898.22" y="444.98" width="39.78" height="23.89" fill="#eeeeee"/>
<rect x="580" y="467.38" width="41.28" height="23.89" fill="#a5a5a5"/>
<rect x="619.78" y="467.38" width="41.28" height="23.89" fill="#eeeeee"/>
<rect x="659.56" y="467.38" width="41.28" height="23.89" fill="#f6f6f6"/>
<rect x="699.33" y="467.38" width="41.28" height="23.89" fill="#f0f0f0"/>
<rect x="739.11" y="467.38" width="41.28" height="23.89" fill="#f0f0f0"/>
<rect x="778.89" y="467.38" width="41.28" height="23.89" fill="#fafafa"/>
<rect x="818.67" y="467.38" width="41.28" height="23.89" fill="#f1f1f1"/>
<rect x="858.44" y="467.38" width="41.28" height="23.89" fill="#f6f6f6"/>
<rect x="898.22" y="467.38" width="39.78" height="23.89" fill="#f3f3f3"/>
<rect x="580" y="489.77" width="41.28" height="23.89" fill="#c4c4c4"/>
<rect x="619.78" y="489.77" width="41.28" height="23.89" fill="#e4e4e4"/>
<rect x="659.56" y="489.77" width="41.28" height="23.89" fill="#e2e2e2"/>
<rect x="699.33" y="489.77" width="41.28" height="23.89" fill="#eeeeee"/>
<rect x="739.11" y="489.77" width="41.28" height="23.89" fill="#f2f2f2"/>
<rect x="778.89" y="489.77" width="41.28" height="23.89" fill="#ffffff"/>
<rect x="818.67" y="489.77" width="41.28" height="23.89" fill="#fafafa"/>
<rect x="858.44" y="489.77" width="41.28" height="23.89" fill="#f6f6f6"/>
<rect x="898.22" y="489.77" width="39.78" height="23.89" fill="#f6f6f6"/>
<rect x="580" y="512.16" width="41.28" height="23.89" fill="#aeaeae"/>
<rect x="619.78" y="512.16" width="41.28" height="23.89" fill="#d0d0d0"/>
<rect x="659.56" y="512.16" width="41.28" height="23.89" fill="#eaeaea"/>
<rect x="699.33" y="512.16" width="41.28" height="23.89" fill="#ececec"/>
<rect x="739.11" y="512.16" width="41.28" height="23.89" fill="#e8e8e8"/>
<rect x="778.89" y="512.16" width="41.28" height="23.89" fill="#e6e6e6"/>
<rect x="818.67" y="512.16" width="41.28" height="23.89" fill="#ececec"/>
<rect x="858.44" y="512.16" width="41.28" height="23.89" fill="#ececec"/>
<rect x="898.22" y="512.16" width="39.78" height="23.89" fill="#f6f6f6"/>
<rect x="580" y="534.55" width="41.28" height="23.89" fill="#ababab"/>
<rect x="619.78" y="534.55" width="41.28" height="23.89" fill="#cecece"/>
<rect x="659.56" y="534.55" width="41.28" height="23.89" fill="#e0e0e0"/>
<rect x="699.33" y="534.55" width="41.28" height="23.89" fill="#e4e4e4"/>
<rect x="739.11" y="534.55" width="41.28" height="23.89" fill="#e2e2e2"/>
<rect x="778.89" y="534.55" width="41.28" height="23.89" fill="#e8e8e8"/>
<rect x="818.67" y="534.55" width="41.28" height="23.89" fill="#f2f2f2"/>
<rect x="858.44" y="534.55" width="41.28" height="23.89" fill="#ececec"/>
<rect x="898.22" y="534.55" width="39.78" height="23.89" fill="#e4e4e4"/>
<rect x="580" y="556.94" width="41.28" height="23.89" fill="#9b9b9b"/>
<rect x="619.78" y="556.94" width="41.28" height="23.89" fill="#cacaca"/>
<rect x="659.56" y="556.94" width="41.28" height="23.89" fill="#dbdbdb"/>
<rect x="699.33" y="556.94" width="41.28" height="23.89" fill="#d6d6d6"/>
<rect x="739.11" y="556.94" width="41.28" height="23.89" fill="#dedede"/>
<rect x="778.89" y="556.94" width="41.28" height="23.89" fill="#d4d4d4"/>
<rect x="818.67" y="556.94" width="41.28" height="23.89" fill="#e0e0e0"/>
<rect x="858.44" y="556.94" width="41.28" height="23.89" fill="#d0d0d0"/>
<rect x="898.22" y="556.94" width="39.78" height="23.89" fill="#e2e2e2"/>
<rect x="580" y="579.33" width="41.28" height="23.89" fill="#777777"/>
<rect x="619.78" y="579.33" width="41.28" height="23.89" fill="#9a9a9a"/>
<rect x="659.56" y="579.33" width="41.28" height="23.89" fill="#b6b6b6"/>
<rect x="699.33" y="579.33" width="41.28" height="23.89" fill="#bebebe"/>
<rect x="739.11" y="579.33" width="41.28" height="23.89" fill="#c2c2c2"/>
<rect x="778.89" y="579.33" width="41.28" height="23.89" fill="#cecece"/>
<rect x="818.67" y="579.33" width="41.28" height="23.89" fill="#cdcdcd"/>
<rect x="858.44" y="579.33" width="41.28" height="23.89" fill="#cdcdcd"/>
<rect x="898.22" y="579.33" width="39.78" height="23.89" fill="#cccccc"/>
<rect x="580" y="601.72" width="41.28" height="23.89" fill="#626262"/>
<rect x="619.78" y="601.72" width="41.28" height="23.89" fill="#929292"/>
<rect x="659.56" y="601.72" width="41.28" height="23.89" fill="#9e9e9e"/>
<rect x="699.33" y="601.72" width="41.28" height="23.89" fill="#aaaaaa"/>
<rect x="739.11" y="601.72" width="41.28" height="23.89" fill="#b0b0b0"/>
<rect x="778.89" y="601.72" width="41.28" height="23.89" fill="#b2b2b2"/>
<rect x="818.67" y="601.72" width="41.28" height="23.89" fill="#b2b2b2"/>
<rect x="858.44" y="601.72" width="41.28" height="23.89" fill="#bebebe"/>
<rect x="898.22" y="601.72" width="39.78" height="23.89" fill="#b4b4b4"/>
<rect x="580" y="624.12" width="41.28" height="23.89" fill="#282828"/>
<rect x="619.78" y="624.12" width="41.28" height="23.89" fill="#5e5e5e"/>
<rect x="659.56" y="624.12" width="41.28" height="23.89" fill="#6a6a6a"/>
<rect x="699.33" y="624.12" width="41.28" height="23.89" fill="#787878"/>
<rect x="739.11" y="624.12" width="41.28" height="23.89" fill="#828282"/>
<rect x="778.89" y="624.12" width="41.28" height="23.89" fill="#7e7e7e"/>
<rect x="818.67" y="624.12" width="41.28" height="23.89" fill="#848484"/>
<rect x="858.44" y="624.12" width="41.28" height="23.89" fill="#888888"/>
<rect x="898.22" y="624.12" width="39.78" height="23.89" fill="#8a8a8a"/>
<rect x="580" y="646.51" width="41.28" height="22.39" fill="#000000"/>
<rect x="619.78" y="646.51" width="41.28" height="22.39" fill="#1f1f1f"/>
<rect x="659.56" y="646.51" width="41.28" height="22.39" fill="#262626"/>
<rect x="699.33" y="646.51" width="41.28" height="22.39" fill="#2a2a2a"/>
<rect x="739.11" y="646.51" width="41.28" height="22.39" fill="#313131"/>
<rect x="778.89" y="646.51" width="41.28" height="22.39" fill="#313131"/>
<rect x="818.67" y="646.51" width="41.28" height="22.39" fill="#333333"/>
<rect x="858.44" y="646.51" width="41.28" height="22.39" fill="#333333"/>
<rect x="898.22" y="646.51" width="39.78" height="22.39" fill="#353535"/>
<path d="M599.89 669.5v-3.9M599.89 400.5v3.9M639.67 669.5v-3.9M639.67 400.5v3.9M679.44 669.5v-3.9M679.44 400.5v3.9M719.22 669.5v-3.9M719.22 400.5v3.9M759 669.5v-3.9M759 400.5v3.9M798.78 669.5v-3.9M798.78 400.5v3.9M838.56 669.5v-3.9M838.56 400.5v3.9M878.33 669.5v-3.9M878.33 400.5v3.9M918.11 669.5v-3.9M918.11 400.5v3.9M580 411.4h3.9M938 411.4h-3.9M580 433.79h3.9M938 433.79h-3.9M580 456.18h3.9M938 456.18h-3.9M580 478.57h3.9M938 478.57h-3.9M580 500.96h3.9M938 500.96h-3.9M580 523.35h3.9M938 523.35h-3.9M580 545.75h3.9M938 545.75h-3.9M580 568.14h3.9M938 568.14h-3.9M580 590.53h3.9M938 590.53h-3.9M580 612.92h3.9M938 612.92h-3.9M580 635.31h3.9M938 635.31h-3.9M580 657.7h3.9M938 657.7h-3.9" stroke="#000" stroke-width="2.9" fill="none"/>
<rect x="580" y="400.5" width="358" height="269" fill="none" stroke="#000" stroke-width="3.1" stroke-linejoin="round"/>
<text transform="translate(599.89 695.3) rotate(0.04)" text-anchor="middle">5</text>
<text transform="translate(639.67 695.3) rotate(0.04)" text-anchor="middle">10</text>
<text transform="translate(679.44 695.3) rotate(0.04)" text-anchor="middle">15</text>
<text transform="translate(719.22 695.3) rotate(0.04)" text-anchor="middle">20</text>
<text transform="translate(759 695.3) rotate(0.04)" text-anchor="middle">25</text>
<text transform="translate(798.78 695.3) rotate(0.04)" text-anchor="middle">30</text>
<text transform="translate(838.56 695.3) rotate(0.04)" text-anchor="middle">35</text>
<text transform="translate(878.33 695.3) rotate(0.04)" text-anchor="middle">40</text>
<text transform="translate(918.11 695.3) rotate(0.04)" text-anchor="middle">45</text>
<text transform="translate(575.3 420.1) rotate(0.04)" text-anchor="end">60</text>
<text transform="translate(575.3 442.49) rotate(0.04)" text-anchor="end">55</text>
<text transform="translate(575.3 464.88) rotate(0.04)" text-anchor="end">50</text>
<text transform="translate(575.3 487.27) rotate(0.04)" text-anchor="end">45</text>
<text transform="translate(575.3 509.66) rotate(0.04)" text-anchor="end">40</text>
<text transform="translate(575.3 532.05) rotate(0.04)" text-anchor="end">35</text>
<text transform="translate(575.3 554.45) rotate(0.04)" text-anchor="end">30</text>
<text transform="translate(575.3 576.84) rotate(0.04)" text-anchor="end">25</text>
<text transform="translate(575.3 599.23) rotate(0.04)" text-anchor="end">20</text>
<text transform="translate(575.3 621.62) rotate(0.04)" text-anchor="end">15</text>
<text transform="translate(575.3 644.01) rotate(0.04)" text-anchor="end">10</text>
<text transform="translate(575.3 666.4) rotate(0.04)" text-anchor="end">5</text>
<text transform="translate(759 718.9) rotate(0.04)" text-anchor="middle">L2</text>
<text transform="translate(759 382.6) rotate(0.04)" text-anchor="middle">ANN model usage</text>
<rect x="960.8" y="400.5" width="30.2" height="269.5" fill="url(#gr)"/>
<text transform="translate(995.8 454) rotate(0.04)">40</text>
<text transform="translate(995.8 526.75) rotate(0.04)">35</text>
<text transform="translate(995.8 599.5) rotate(0.04)">30</text>
<text transform="translate(995.8 672.25) rotate(0.04)">25</text>
<path d="M960.8 445h3.4M991 445h-3.4M960.8 517.75h3.4M991 517.75h-3.4M960.8 590.5h3.4M991 590.5h-3.4M960.8 663.25h3.4M991 663.25h-3.4" stroke="#000" stroke-width="2.9" fill="none"/>
<rect x="960.8" y="400.5" width="30.2" height="269.5" fill="none" stroke="#000" stroke-width="3.1" stroke-linejoin="round"/>
</g>
</svg>
</body>
</html>
